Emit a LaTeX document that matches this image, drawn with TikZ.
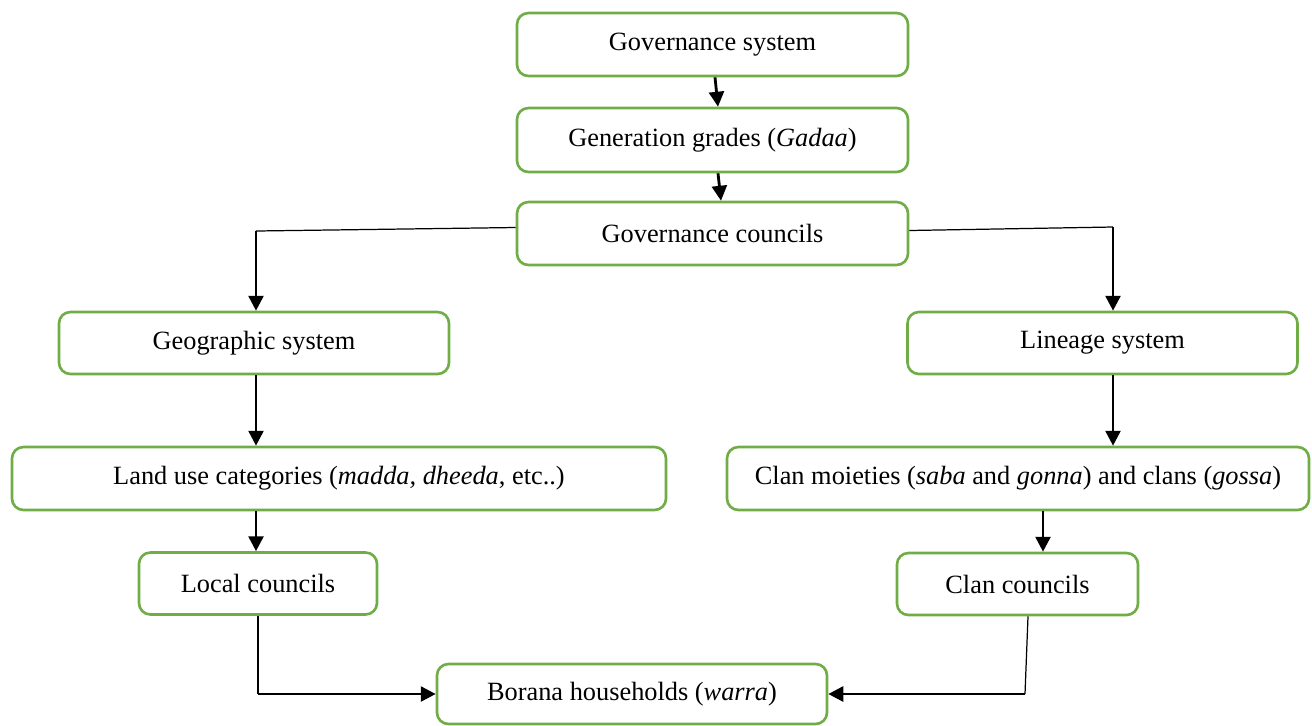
\documentclass[tikz,border=0pt]{standalone}
\usepackage{fontspec}
\setmainfont{Liberation Serif}
\usepackage{tikz}
\usetikzlibrary{arrows.meta,calc,positioning}
\definecolor{boxgreen}{HTML}{70AD47}

\begin{document}
\begin{tikzpicture}[x=0.02cm,y=-0.02cm,>={Triangle[length=8.5pt,width=8.5pt]},
  stagebox/.style={draw=boxgreen,line width=1.5pt,rounded corners=6.5pt,fill=white,
    inner sep=0pt,font=\fontsize{15}{18}\selectfont},
  arr/.style={->,line width=1.6pt},
  link/.style={line width=0.7pt}]
  \useasboundingbox (0,0) rectangle (1312,725);
  % top chain
  \node[stagebox,minimum width=391*0.02cm,minimum height=63*0.02cm] (gov) at (712.5,44.5) {Governance system};
  \node[stagebox,minimum width=391*0.02cm,minimum height=64*0.02cm] (gen) at (712.5,140) {Generation grades (\textit{Gadaa})};
  \node[stagebox,minimum width=391*0.02cm,minimum height=63*0.02cm] (govc) at (712.5,233.5) {Governance councils};
  % two branches
  \node[stagebox,minimum width=390*0.02cm,minimum height=62*0.02cm] (geo) at (254,343) {Geographic system};
  \node[stagebox,minimum width=390*0.02cm,minimum height=62*0.02cm] (lin) at (1102.5,343) {Lineage system};
  \node[stagebox,minimum width=654*0.02cm,minimum height=63*0.02cm] (land) at (339,478.5) {Land use categories (\textit{madda, dheeda}, etc..)};
  \node[stagebox,minimum width=582*0.02cm,minimum height=63*0.02cm] (clan) at (1018,478.5) {Clan moieties (\textit{saba} and \textit{gonna}) and clans (\textit{gossa})};
  \node[stagebox,minimum width=238*0.02cm,minimum height=62*0.02cm] (local) at (258,583.5) {Local councils};
  \node[stagebox,minimum width=241*0.02cm,minimum height=62*0.02cm] (clanc) at (1017.5,584) {Clan councils};
  \node[stagebox,minimum width=390*0.02cm,minimum height=60*0.02cm] (bor) at (632,694) {Borana households (\textit{warra})};

  \draw[arr] ($(gov.south)+(2.5,0)$) -- ($(gen.north)+(5.5,0)$);
  \draw[arr] ($(gen.south)+(5.5,0)$) -- ($(govc.north)+(8.5,0)$);

  % helper points for the elbow connectors
  \coordinate (geotop) at ($(geo.north)+(2,0)$);
  \coordinate (geobot) at ($(geo.south)+(2,0)$);
  \coordinate (lintop) at ($(lin.north)+(10.5,0)$);
  \coordinate (linbot) at ($(lin.south)+(10.5,0)$);
  \coordinate (loctop) at ($(local.north)+(-2,0)$);
  \coordinate (clctop) at ($(clanc.north)+(25.5,0)$);
  \coordinate (clcbot) at ($(clanc.south)+(10.5,0)$);
  \coordinate (lbend) at (geotop |- 0,231);
  \coordinate (rbend) at (lintop |- 0,227);

  \draw[link] ($(govc.west)+(0,-6)$) -- (lbend);
  \draw[arr] (lbend) -- (geotop);
  \draw[link] ($(govc.east)+(0,-3)$) -- (rbend);
  \draw[arr] (rbend) -- (lintop);

  \draw[arr] (geobot) -- (geobot |- land.north);
  \draw[arr] (linbot) -- (linbot |- clan.north);
  \draw[arr] (loctop |- land.south) -- (loctop);
  \draw[arr] (clctop |- clan.south) -- (clctop);

  \coordinate (lfoot) at (local.south |- bor.west);
  \coordinate (rfoot) at ($(clcbot |- bor.east)+(-3,0)$);
  \draw[line width=1.1pt] (local.south) -- (lfoot);
  \draw[arr] (lfoot) -- (bor.west);
  \draw[link] (clcbot) -- (rfoot);
  \draw[arr] (rfoot) -- (bor.east);
\end{tikzpicture}
\end{document}
